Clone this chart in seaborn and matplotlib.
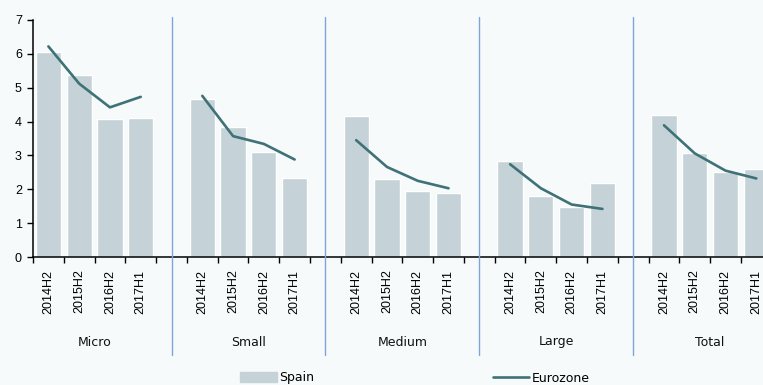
import matplotlib
matplotlib.use("Agg")
import matplotlib.pyplot as plt
import seaborn as sns
import pandas as pd
from matplotlib.lines import Line2D

groups = ["Micro", "Small", "Medium", "Large", "Total"]
periods = ["2014H2", "2015H2", "2016H2", "2017H1"]
spain = {
    "Micro":  [6.06, 5.39, 4.08, 4.12],
    "Small":  [4.68, 3.83, 3.11, 2.32],
    "Medium": [4.16, 2.29, 1.95, 1.88],
    "Large":  [2.85, 1.80, 1.47, 2.18],
    "Total":  [4.19, 3.07, 2.51, 2.59],
}
eurozone = {
    "Micro":  [6.22, 5.12, 4.42, 4.73],
    "Small":  [4.76, 3.57, 3.34, 2.88],
    "Medium": [3.45, 2.66, 2.25, 2.03],
    "Large":  [2.74, 2.03, 1.55, 1.42],
    "Total":  [3.89, 3.06, 2.55, 2.32],
}

bg = "#F6FAFB"
bar_color = "#C5D3D8"
line_color = "#3E7276"
sep_color = "#7FA5D6"

# category order with an empty slot between groups
order = []
tick_labels = []
rows = []
for gi, g in enumerate(groups):
    for pi, p in enumerate(periods):
        slot = f"{g}|{p}"
        order.append(slot)
        tick_labels.append(p)
        rows.append({"slot": slot, "group": g, "period": p,
                     "spain": spain[g][pi], "eurozone": eurozone[g][pi]})
    if gi < len(groups) - 1:
        order.append(f"gap{gi}")
        tick_labels.append("")
df = pd.DataFrame(rows)
df["pos"] = df["slot"].map({s: i for i, s in enumerate(order)})

sns.set_theme(style="white")
plt.rcParams["font.family"] = ["DejaVu Sans"]
plt.rcParams["text.color"] = "black"

W, H = 763, 385
fig = plt.figure(figsize=(W / 100, H / 100), dpi=100, facecolor=bg)
ax_left = 33 / W
ax_w = (24 * 30.78) / W
ax_bottom = (H - 257) / H
ax_h = (257 - 20) / H
ax = fig.add_axes([ax_left, ax_bottom, ax_w, ax_h], facecolor=bg)

sns.barplot(data=df, x="slot", y="spain", order=order, color=bar_color,
            saturation=1, width=0.82, ax=ax)
sns.lineplot(data=df, x="pos", y="eurozone", units="group", estimator=None,
             color=line_color, linewidth=1.9, ax=ax, legend=False)
if ax.get_legend() is not None:
    ax.get_legend().remove()

n = len(order)
ax.set_xlim(-0.5, n - 0.5)
ax.set_ylim(0, 7)
ax.set_yticks(range(0, 8))
ax.set_xticks(range(n))
ax.set_xticklabels(tick_labels, rotation=90, fontsize=9,
                   family=["Liberation Sans", "DejaVu Sans"])
ax.set_xticks([i - 0.5 for i in range(n + 1)], minor=True)
ax.tick_params(axis="x", which="major", bottom=True, length=0, pad=9,
               labelcolor="black")
ax.tick_params(axis="x", which="minor", bottom=True, length=4, width=1.0,
               color="black", direction="out")
ax.tick_params(axis="y", left=True, length=4, width=1.0, color="black", pad=4,
               labelsize=9, labelcolor="black", direction="out")
for lab in ax.get_yticklabels():
    lab.set_family(["Liberation Sans", "DejaVu Sans"])
ax.set_xlabel("")
ax.set_ylabel("")
for s in ["top", "right"]:
    ax.spines[s].set_visible(False)
for s in ["left", "bottom"]:
    ax.spines[s].set_color("black")
    ax.spines[s].set_linewidth(1.1)

# group separators and group labels
trans = ax.get_xaxis_transform()
y_top = (H - 17) / H
y_bot = (H - 355) / H
for gi in range(len(groups) - 1):
    xpos = order.index(f"gap{gi}")
    xfig = fig.transFigure.inverted().transform(ax.transData.transform((xpos, 0)))[0]
    fig.add_artist(Line2D([xfig, xfig], [y_bot, y_top], color=sep_color,
                          linewidth=1.0, transform=fig.transFigure))
for g in groups:
    positions = df.loc[df["group"] == g, "pos"]
    xc = positions.mean()
    ax.text(xc, -(342 - 257) / (257 - 20), g, transform=trans,
            ha="center", va="center", fontsize=9, color="#111111")

handles = [plt.Rectangle((0, 0), 1, 1, color=bar_color),
           Line2D([0], [0], color=line_color, linewidth=1.9)]
fig.legend(handles, ["Spain", "Eurozone"], loc="center",
           bbox_to_anchor=(415 / W, 1 - 378 / H), ncol=2, frameon=False,
           handlelength=2.9, handleheight=0.8, handletextpad=0.2,
           columnspacing=14.3, fontsize=9, borderaxespad=0, borderpad=0)

fig.savefig("out.png", dpi=100, facecolor=bg)
